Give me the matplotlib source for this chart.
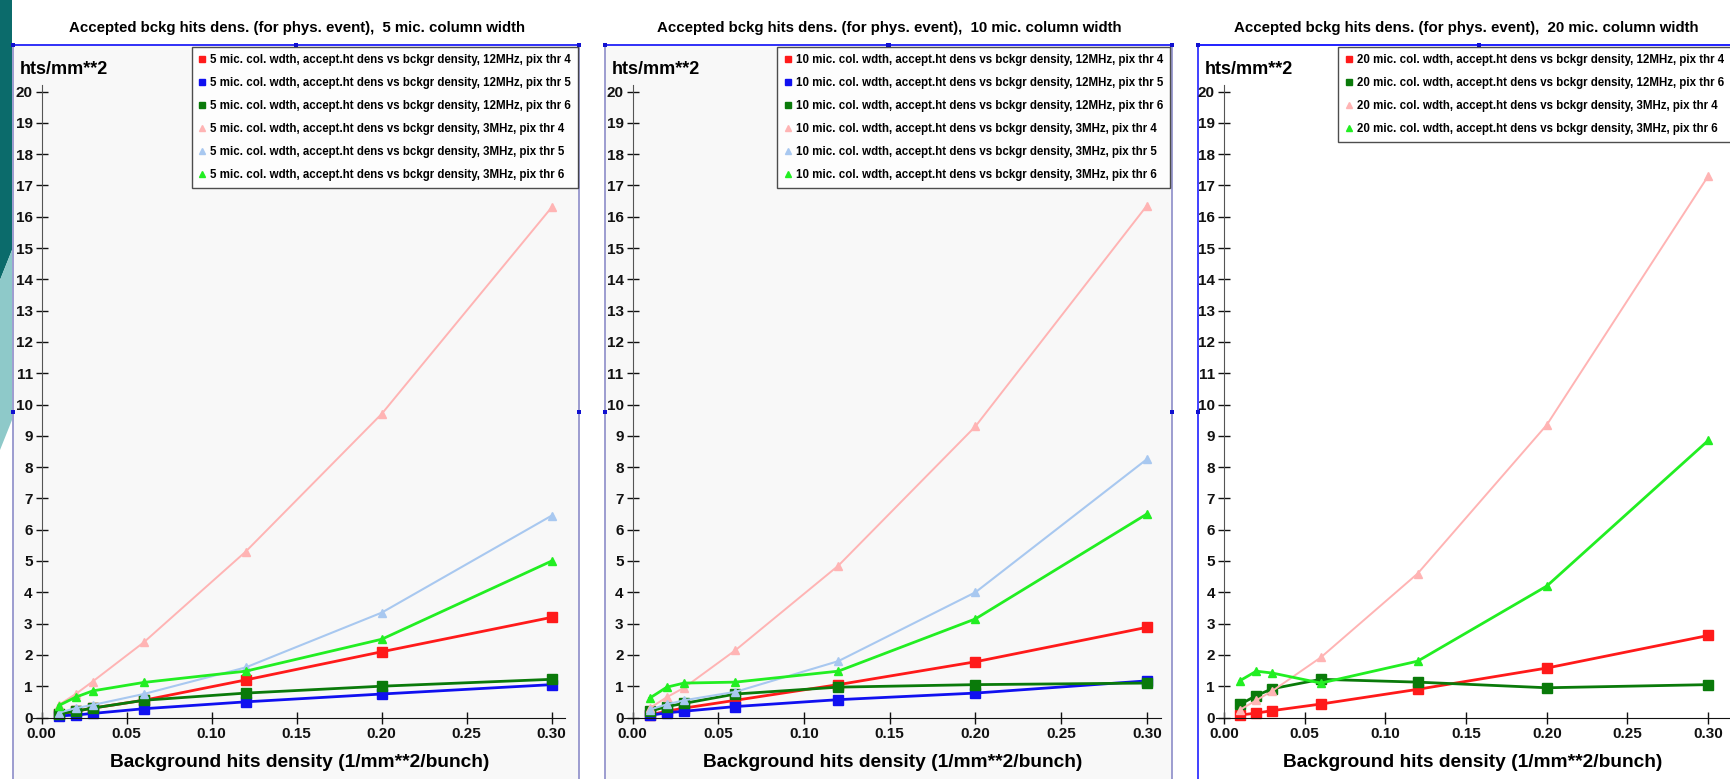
import numpy as np
import matplotlib
matplotlib.use("Agg")
import matplotlib.pyplot as plt
from matplotlib.lines import Line2D
from matplotlib.patches import Rectangle, Polygon

plt.rcParams['font.family'] = ['Liberation Sans Narrow', 'Liberation Sans', 'DejaVu Sans']
plt.rcParams['font.weight'] = 'bold'

# background density (1/mm**2/bunch)
x = [0.01, 0.02, 0.03, 0.06, 0.12, 0.20, 0.30]

# 5 mic column width
w5_12_thr4 = [0.10, 0.20, 0.30, 0.55, 1.20, 2.10, 3.20]
w5_12_thr5 = [0.05, 0.08, 0.13, 0.28, 0.50, 0.75, 1.05]
w5_12_thr6 = [0.12, 0.20, 0.30, 0.55, 0.78, 1.00, 1.22]
w5_3_thr4 = [0.40, 0.75, 1.15, 2.40, 5.30, 9.70, 16.30]
w5_3_thr5 = [0.15, 0.30, 0.40, 0.75, 1.60, 3.35, 6.45]
w5_3_thr6 = [0.38, 0.65, 0.85, 1.12, 1.48, 2.50, 5.00]

# 10 mic column width
w10_12_thr4 = [0.08, 0.20, 0.30, 0.55, 1.05, 1.78, 2.88]
w10_12_thr5 = [0.07, 0.15, 0.20, 0.35, 0.57, 0.78, 1.17]
w10_12_thr6 = [0.20, 0.35, 0.45, 0.75, 0.97, 1.05, 1.10]
w10_3_thr4 = [0.30, 0.65, 0.95, 2.15, 4.85, 9.30, 16.35]
w10_3_thr5 = [0.25, 0.42, 0.55, 0.82, 1.80, 4.00, 8.25]
w10_3_thr6 = [0.62, 0.97, 1.10, 1.13, 1.48, 3.15, 6.50]

# 20 mic column width
w20_12_thr4 = [0.08, 0.14, 0.22, 0.43, 0.90, 1.58, 2.62]
w20_12_thr6 = [0.42, 0.70, 0.92, 1.22, 1.13, 0.95, 1.05]
w20_3_thr4 = [0.25, 0.55, 0.85, 1.92, 4.60, 9.35, 17.30]
w20_3_thr6 = [1.18, 1.48, 1.42, 1.10, 1.80, 4.20, 8.85]

# style per series key
styles = {
    "12MHz, pix thr 4": dict(color="#ff1a1a", marker="s", ms=6.5, lw=2.0),
    "12MHz, pix thr 5": dict(color="#1010f0", marker="s", ms=6.5, lw=2.0),
    "12MHz, pix thr 6": dict(color="#0a7a0a", marker="s", ms=6.5, lw=2.0),
    "3MHz, pix thr 4": dict(color="#ffb4b4", marker="^", ms=5.5, lw=1.4),
    "3MHz, pix thr 5": dict(color="#a8c8f0", marker="^", ms=5.5, lw=1.5),
    "3MHz, pix thr 6": dict(color="#22ee22", marker="^", ms=5.5, lw=2.0),
}

panels = [
    dict(width="5", series=[("12MHz, pix thr 4", w5_12_thr4), ("12MHz, pix thr 5", w5_12_thr5),
                            ("12MHz, pix thr 6", w5_12_thr6), ("3MHz, pix thr 4", w5_3_thr4),
                            ("3MHz, pix thr 5", w5_3_thr5), ("3MHz, pix thr 6", w5_3_thr6)],
         x0=41.7, scale=1700, xmax=0.308, frame=(13, 579), edge="#8c8cc8", face="#f8f8f8",
         leg=(578, 47), title_x=297),
    dict(width="10", series=[("12MHz, pix thr 4", w10_12_thr4), ("12MHz, pix thr 5", w10_12_thr5),
                             ("12MHz, pix thr 6", w10_12_thr6), ("3MHz, pix thr 4", w10_3_thr4),
                             ("3MHz, pix thr 5", w10_3_thr5), ("3MHz, pix thr 6", w10_3_thr6)],
         x0=632.6, scale=1714, xmax=0.308, frame=(605, 1172), edge="#8c8cc8", face="#f8f8f8",
         leg=(1170, 47), title_x=889),
    dict(width="20", series=[("12MHz, pix thr 4", w20_12_thr4), ("12MHz, pix thr 6", w20_12_thr6),
                             ("3MHz, pix thr 4", w20_3_thr4), ("3MHz, pix thr 6", w20_3_thr6)],
         x0=1224, scale=1614, xmax=0.313, frame=(1198, 1760), edge="#2020ff", face="#ffffff",
         leg=(1731, 47), title_x=1466),
]

W, H = 1731, 779
fig = plt.figure(figsize=(W / 100, H / 100), dpi=100)
fig.patch.set_facecolor("white")

# slide decoration at the top-left corner
fig.patches.append(Polygon([(0, 1), (12 / W, 1), (12 / W, 1 - 250 / H), (0, 1 - 280 / H)],
                           closed=True, transform=fig.transFigure, facecolor="#0b6b6b",
                           edgecolor="none", zorder=0))
fig.patches.append(Polygon([(0, 1 - 280 / H), (12 / W, 1 - 250 / H), (12 / W, 1 - 420 / H), (0, 1 - 450 / H)],
                           closed=True, transform=fig.transFigure, facecolor="#8ec9c9",
                           edgecolor="none", zorder=0))

y0_px, yscale, ymax = 717.5, 31.3, 20.2
for p in panels:
    fl, fr = p["frame"]
    top = 45
    fig.patches.append(Rectangle((fl / W, -0.05), (fr - fl) / W, 1 - top / H + 0.05,
                                 transform=fig.transFigure, facecolor=p["face"],
                                 edgecolor=p["edge"], lw=1.2, zorder=0.5))
    fig.add_artist(Line2D([fl / W, fr / W], [1 - top / H] * 2, color="#2020ff", lw=1.2, zorder=0.6))
    # selection handles
    for hx, hy in [(fl, top), ((fl + fr) / 2, top), (fr, top), (fl, 412), (fr, 412)]:
        if hx < W:
            fig.add_artist(Rectangle((hx / W - 2 / W, 1 - hy / H - 2 / H), 4 / W, 4 / H,
                                     transform=fig.transFigure, facecolor="#1010d0",
                                     edgecolor="none", zorder=0.7))

    xmin = -0.005
    left = p["x0"] + xmin * p["scale"]
    width = (p["xmax"] - xmin) * p["scale"]
    height = ymax * yscale
    ax = fig.add_axes([left / W, (H - y0_px) / H, width / W, height / H])
    ax.set_zorder(3)
    ax.set_facecolor("none")
    ax.set_xlim(xmin, p["xmax"])
    ax.set_ylim(0, ymax)

    for key, vals in p["series"]:
        s = styles[key]
        ax.plot(x, vals, color=s["color"], lw=s["lw"], marker=s["marker"], ms=s["ms"],
                mec=s["color"], mfc=s["color"], clip_on=False)

    ax.spines["top"].set_visible(False)
    ax.spines["right"].set_visible(False)
    ax.spines["left"].set_position(("data", 0))
    ax.spines["left"].set_color("#555555")
    ax.spines["bottom"].set_color("#111111")
    ax.set_xticks([0.0, 0.05, 0.10, 0.15, 0.20, 0.25, 0.30])
    ax.set_xticklabels(["0.00", "0.05", "0.10", "0.15", "0.20", "0.25", "0.30"])
    ax.set_yticks(np.arange(0, 21, 1))
    ax.tick_params(direction="inout", length=9, width=1, labelsize=11, pad=2, colors="#111111")
    for lab in ax.get_xticklabels() + ax.get_yticklabels():
        lab.set_fontweight("bold")

    ax.set_xlabel("Background hits density (1/mm**2/bunch)", fontsize=13.8, fontweight="bold", labelpad=10)
    fig.text((fl + 7) / W, 1 - 69 / H, "hts/mm**2", fontsize=13, fontweight="bold", va="center", ha="left")
    fig.text(p["title_x"] / W, 1 - 28 / H,
             "Accepted bckg hits dens. (for phys. event),  " + p["width"] + " mic. column width",
             fontsize=10.8, fontweight="bold", ha="center", va="center")

    handles = []
    for key, vals in p["series"]:
        s = styles[key]
        handles.append(Line2D([], [], ls="none", marker=s["marker"], ms=4.5 if s["marker"] == "s" else 4,
                              color=s["color"],
                              label=p["width"] + " mic. col. wdth, accept.ht dens vs bckgr density, " + key))
    lx, ly = p["leg"]
    leg = ax.legend(handles=handles, loc="upper right", bbox_to_anchor=(lx / W, 1 - ly / H),
                    bbox_transform=fig.transFigure, fontsize=8.3, frameon=True, fancybox=False,
                    edgecolor="#222222", handlelength=0.6, handletextpad=0.4, labelspacing=0.95,
                    borderpad=0.6, borderaxespad=0)
    leg.get_frame().set_linewidth(1.0)
    for t in leg.get_texts():
        t.set_fontweight("bold")

fig.savefig("out.png", dpi=100)
